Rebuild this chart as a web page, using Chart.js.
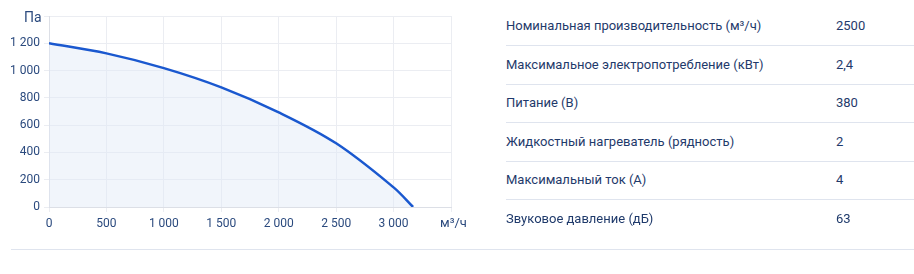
<!DOCTYPE html>
<html><head><meta charset="utf-8">
<script src="https://cdn.jsdelivr.net/npm/chart.js@4"></script>
<style>
html,body{margin:0;padding:0;background:#fff;width:914px;height:274px;overflow:hidden;font-family:Roboto,"Noto Sans",sans-serif;}
#wrap{position:absolute;left:0;top:0;width:480px;height:240px;}
.unit{position:absolute;color:#2b4a7e;font-size:13px;}
#tbl{position:absolute;left:506px;top:7.5px;width:408px;}
.row{position:relative;height:37.5px;border-bottom:1px solid #dfe4ee;color:#1f3a6b;font-size:13px;}
.row span{position:absolute;top:10.5px;}
.row .v{left:330px;}
#bottom{position:absolute;left:11px;top:249px;width:903px;height:1px;background:#dfe4ee;}
</style></head><body>
<div id="wrap"><canvas id="c" width="480" height="240"></canvas></div>
<div class="unit" style="left:24px;top:9px;font-size:14px;">Па</div>
<div class="unit" style="left:440px;top:215px;font-size:13px;">м³/ч</div>
<div id="tbl"></div>
<div id="bottom"></div>
<script>
const flowX = [0, 500, 1000, 1500, 2000, 2500, 3000, 3170];
const pressureY = [1200, 1126, 1018, 877, 694, 467, 144, 0];
const xTicks = [0, 500, 1000, 1500, 2000, 2500, 3000, 3500];
const yTicks = [0, 200, 400, 600, 800, 1000, 1200, 1400];
const paramNames = ["Номинальная производительность (м³/ч)","Максимальное электропотребление (кВт)","Питание (В)","Жидкостный нагреватель (рядность)","Максимальный ток (А)","Звуковое давление (дБ)"];
const paramValues = ["2500","2,4","380","2","4","63"];

const tbl = document.getElementById('tbl');
paramNames.forEach((n,i)=>{
  const r=document.createElement('div');r.className='row';
  if(i===paramNames.length-1) r.style.borderBottom='none';
  r.innerHTML='<span>'+n+'</span><span class="v">'+paramValues[i]+'</span>';
  tbl.appendChild(r);
});

const fmt = v => String(v).replace(/\B(?=(\d{3})+(?!\d))/g,' ');
new Chart(document.getElementById('c'),{
  type:'line',
  data:{datasets:[{
    data: flowX.map((x,i)=>({x:x,y:pressureY[i]})),
    borderColor:'#1a58cf', borderWidth:2.5, backgroundColor:'rgba(225,233,246,0.45)',
    fill:'origin', pointRadius:0, tension:0.35
  }]},
  options:{
    responsive:false, animation:false,
    layout:{padding:{top:16,right:29,left:0,bottom:0}},
    plugins:{legend:{display:false},tooltip:{enabled:false}},
    scales:{
      x:{type:'linear',min:0,max:3500,
        afterBuildTicks:s=>{s.ticks=xTicks.map(v=>({value:v}));},
        afterFit:s=>{s.height=33;},
        grid:{color:'#ebedf2',tickLength:5},
        border:{color:'#dcdfe6'},
        ticks:{color:'#2b4a7e',font:{family:'Roboto',size:12},padding:5,maxRotation:0,autoSkip:false,
          callback:v=>v===3500?'':fmt(v)}},
      y:{min:0,max:1400,
        afterBuildTicks:s=>{s.ticks=yTicks.map(v=>({value:v}));},
        afterFit:s=>{s.width=49;},
        grid:{color:'#ebedf2',tickLength:5},
        border:{color:'#dcdfe6'},
        ticks:{color:'#2b4a7e',font:{family:'Roboto',size:12},padding:4,
          callback:v=>v===1400?'':fmt(v)}}
    }
  }
});
</script></body></html>
